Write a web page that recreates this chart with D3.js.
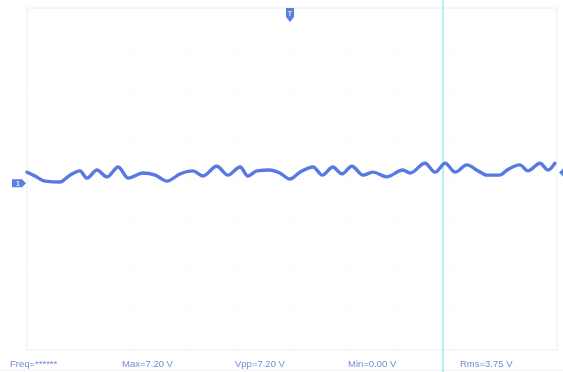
<!DOCTYPE html>
<html>
<head>
<meta charset="utf-8">
<script src="https://cdn.jsdelivr.net/npm/d3@7"></script>
<style>
  html, body { margin: 0; padding: 0; background: #fff; }
  svg { display: block; }
</style>
</head>
<body>
<svg id="scope" width="563" height="372"></svg>
<script>
// Trace samples: time in divisions (0..10), level in divisions from centre (-4..4)
const traceTime = [0, 0.15, 0.34, 0.62, 0.81, 1.00, 1.13, 1.32, 1.51, 1.72, 1.91, 2.19, 2.42, 2.64, 2.89,
  3.13, 3.32, 3.58, 3.79, 4.02, 4.17, 4.34, 4.58, 4.77, 4.96, 5.15, 5.40, 5.57, 5.77, 5.94, 6.13, 6.34,
  6.53, 6.79, 7.09, 7.23, 7.51, 7.70, 7.89, 8.08, 8.30, 8.51, 8.68, 8.92, 9.06, 9.30, 9.45, 9.68, 9.83, 9.96];
const traceLevel = [0.16, 0.07, -0.05, -0.07, 0.09, 0.19, 0.02, 0.21, 0.05, 0.28, 0.02, 0.14, 0.09, -0.05, 0.12,
  0.19, 0.07, 0.30, 0.09, 0.28, 0.07, 0.19, 0.21, 0.14, 0.00, 0.16, 0.28, 0.09, 0.28, 0.12, 0.30, 0.09,
  0.16, 0.05, 0.21, 0.14, 0.37, 0.16, 0.37, 0.16, 0.33, 0.19, 0.09, 0.09, 0.21, 0.33, 0.19, 0.37, 0.21, 0.37];

// Measurement readouts along the bottom bar
const measureLabels = ["Freq=******", "Max=7.20 V", "Vpp=7.20 V", "Min=0.00 V", "Rms=3.75 V"];

// Screen graticule divisions and marker positions (in divisions)
const xDivs = [0, 1, 2, 3, 4, 5, 6, 7, 8, 9, 10];
const yDivs = [-4, -3, -2, -1, 0, 1, 2, 3, 4];
const cursorTime = [7.85];
const triggerTime = [5];
const groundLevel = [-0.1];
const rightMarkerLevel = [0.15];

const svg = d3.select("#scope");
const W = 563, H = 372;
const plot = { left: 27, right: 557, top: 8, bottom: 350 };

const x = d3.scaleLinear().domain([0, 10]).range([plot.left, plot.right]);
const y = d3.scaleLinear().domain([-4, 4]).range([plot.bottom, plot.top]);

// Soften everything slightly like a photographed screen
const defs = svg.append("defs");
defs.append("filter").attr("id", "soft")
  .append("feGaussianBlur").attr("stdDeviation", 0.6);

const g = svg.append("g").attr("filter", "url(#soft)");

// Graticule
const grid = g.append("g");
grid.selectAll("line.v").data(xDivs).join("line")
  .attr("x1", d => x(d)).attr("x2", d => x(d))
  .attr("y1", plot.top).attr("y2", plot.bottom)
  .attr("stroke", d => (d === 0 || d === 10) ? "#ececec" : "#f3f3f3")
  .attr("stroke-width", 1)
  .attr("stroke-dasharray", d => (d === 0 || d === 10) ? null : "1,3");
grid.selectAll("line.h").data(yDivs).join("line")
  .attr("x1", plot.left).attr("x2", plot.right)
  .attr("y1", d => y(d)).attr("y2", d => y(d))
  .attr("stroke", d => (d === -4 || d === 4) ? "#ececec" : "#f3f3f3")
  .attr("stroke-width", 1)
  .attr("stroke-dasharray", d => (d === -4 || d === 4) ? null : "1,3");

// Bottom separator line under readouts
g.append("line")
  .attr("x1", 0).attr("x2", W)
  .attr("y1", 370).attr("y2", 370)
  .attr("stroke", "#eef1f7").attr("stroke-width", 1);

// Cursor line
g.selectAll("line.cursor").data(cursorTime).join("line")
  .attr("x1", d => x(d)).attr("x2", d => x(d))
  .attr("y1", 0).attr("y2", H)
  .attr("stroke", "#a9ecee").attr("stroke-width", 1.6);

// Trace
const pts = traceTime.map((t, i) => [t, traceLevel[i]]);
g.append("path")
  .datum(pts)
  .attr("d", d3.line().x(d => x(d[0])).y(d => y(d[1])).curve(d3.curveMonotoneX))
  .attr("fill", "none")
  .attr("stroke", "#5779e2")
  .attr("stroke-width", 3.4)
  .attr("stroke-linejoin", "round")
  .attr("stroke-linecap", "round");

// Trigger position marker at the top
const trig = g.selectAll("g.trig").data(triggerTime).join("g")
  .attr("transform", d => `translate(${x(d) - 2},8)`);
trig.append("path")
  .attr("d", "M-4,0 L4,0 L4,9 L0,14 L-4,9 Z")
  .attr("fill", "#5a7fe0");
trig.append("text")
  .attr("x", 0).attr("y", 8)
  .attr("text-anchor", "middle")
  .attr("font-family", "Liberation Sans, Arial, sans-serif")
  .attr("font-size", 7).attr("font-weight", "bold")
  .attr("fill", "#dfe8ff").text("T");

// Channel ground marker on the left
const ch = g.selectAll("g.ch").data(groundLevel).join("g")
  .attr("transform", d => `translate(12,${y(d)})`);
ch.append("path")
  .attr("d", "M0,-4 L10,-4 L14,0 L10,4 L0,4 Z")
  .attr("fill", "#5a7fe0");
ch.append("text")
  .attr("x", 6).attr("y", 3)
  .attr("text-anchor", "middle")
  .attr("font-family", "Liberation Sans, Arial, sans-serif")
  .attr("font-size", 7).attr("font-weight", "bold")
  .attr("fill", "#dfe8ff").text("1");

// Level marker on the right edge
g.selectAll("path.rmark").data(rightMarkerLevel).join("path")
  .attr("d", d => `M${W - 4},${y(d)} L${W},${y(d) - 4} L${W},${y(d) + 4} Z`)
  .attr("fill", "#5a7fe0");

// Readouts
const readX = [10, 122, 235, 348, 460];
g.selectAll("text.meas").data(measureLabels).join("text")
  .attr("x", (d, i) => readX[i])
  .attr("y", 367)
  .attr("font-family", "Liberation Sans, Arial, sans-serif")
  .attr("font-size", 9.5)
  .attr("fill", "#6f8bd8")
  .text(d => d);
</script>
</body>
</html>
